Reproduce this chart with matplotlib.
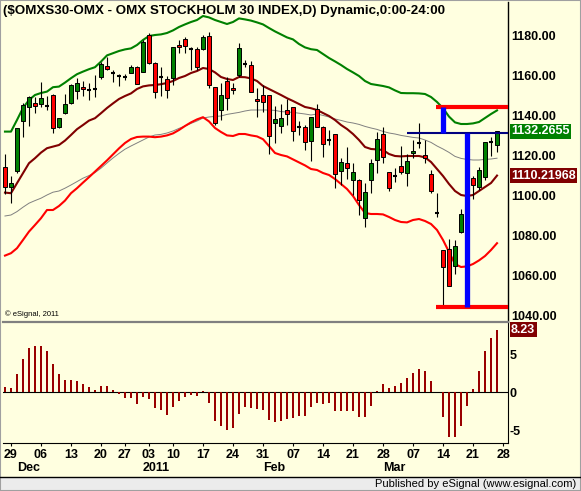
import matplotlib
matplotlib.use("Agg")
import matplotlib.pyplot as plt
from matplotlib.patches import Rectangle
import pandas as pd

# trading days (Stockholm holidays dropped); the chart runs one slot past the last bar
holidays = pd.to_datetime(["2010-12-24", "2010-12-31", "2011-01-06"])
dates = pd.bdate_range("2010-11-26", "2011-03-28")
dates = dates[~dates.isin(holidays)]

opens = [1114.7, 1104.3, 1112.7, 1137.7, 1144.3, 1146.7, 1146.0, 1145.0, 1150.3, 1134.7,
         1141.3, 1146.3, 1152.7, 1154.7, 1153.0, 1153.7, 1159.3, 1165.0, 1161.7, 1160.0,
         1159.7, 1161.3, 1164.3, 1161.8, 1180.5, 1166.3, 1159.7, 1158.3, 1158.8, 1175.3,
         1178.7, 1173.3, 1173.3, 1173.3, 1180.0, 1154.3, 1143.0, 1157.5, 1153.8, 1160.5,
         1165.8, 1165.3, 1148.7, 1150.5, 1150.3, 1136.3, 1135.2, 1143.0, 1144.3, 1134.7,
         1134.3, 1127.5, 1143.3, 1134.7, 1128.0, 1131.0, 1112.7, 1116.3, 1108.0, 1108.0,
         1088.8, 1108.0, 1118.0, 1131.0, 1111.8, 1110.2, 1115.0, 1111.3, 1121.3, 1126.3,
         1120.3, 1111.0, 1091.7, 1072.8, 1073.5, 1065.2, 1082.2, 1103.7, 1109.0, 1104.3,
         1109.3, 1126.8, 1125.5]
highs = [1121.0, 1110.2, 1134.0, 1146.7, 1150.0, 1149.7, 1157.2, 1150.0, 1151.0, 1139.0,
         1150.8, 1156.0, 1158.8, 1157.7, 1156.3, 1160.5, 1167.2, 1169.7, 1163.0, 1161.0,
         1161.0, 1165.5, 1165.0, 1178.0, 1181.3, 1167.2, 1164.7, 1160.0, 1174.7, 1178.0,
         1179.7, 1174.7, 1174.5, 1180.5, 1182.2, 1154.5, 1156.3, 1159.7, 1156.3, 1176.7,
         1168.0, 1167.5, 1153.8, 1155.5, 1150.3, 1145.0, 1145.8, 1148.5, 1144.7, 1137.7,
         1135.5, 1139.7, 1146.0, 1135.0, 1133.0, 1131.0, 1118.8, 1124.7, 1116.3, 1108.5,
         1106.7, 1118.3, 1132.2, 1134.7, 1111.8, 1113.8, 1125.0, 1121.0, 1128.0, 1136.3,
         1128.0, 1113.0, 1101.3, 1072.8, 1078.3, 1078.0, 1093.5, 1108.8, 1110.0, 1114.7,
         1126.8, 1129.7, 1132.27]
lows = [1101.0, 1096.7, 1111.7, 1129.7, 1135.0, 1141.3, 1144.7, 1143.0, 1131.3, 1133.9,
        1141.0, 1146.0, 1148.3, 1150.0, 1148.0, 1149.7, 1158.3, 1163.0, 1157.2, 1155.0,
        1158.0, 1161.3, 1155.8, 1161.8, 1166.0, 1149.2, 1150.0, 1149.2, 1155.5, 1171.3,
        1171.3, 1163.0, 1163.0, 1173.0, 1153.8, 1135.5, 1138.0, 1143.0, 1150.8, 1159.7,
        1164.7, 1151.8, 1139.7, 1142.2, 1121.0, 1126.7, 1131.3, 1135.5, 1127.7, 1130.5,
        1123.0, 1117.7, 1134.3, 1119.7, 1125.5, 1103.8, 1105.5, 1108.5, 1100.5, 1090.5,
        1084.7, 1101.3, 1111.7, 1116.3, 1102.7, 1107.2, 1111.0, 1105.0, 1119.0, 1123.8,
        1116.3, 1101.3, 1089.3, 1045.5, 1055.2, 1061.0, 1081.3, 1101.3, 1098.3, 1103.0,
        1108.0, 1120.2, 1122.2]
closes = [1104.3, 1106.3, 1133.8, 1145.3, 1149.3, 1145.0, 1148.8, 1145.0, 1133.8, 1138.8,
          1146.0, 1155.3, 1156.3, 1153.7, 1153.0, 1153.7, 1166.0, 1163.3, 1161.7, 1160.0,
          1159.7, 1164.7, 1155.8, 1176.8, 1166.3, 1152.0, 1159.7, 1153.0, 1174.3, 1174.3,
          1175.0, 1173.3, 1164.7, 1179.3, 1155.5, 1136.3, 1150.3, 1148.8, 1152.8, 1173.8,
          1165.8, 1151.8, 1147.5, 1146.8, 1130.2, 1138.3, 1138.8, 1140.8, 1132.7, 1134.7,
          1127.2, 1139.7, 1134.3, 1125.8, 1128.0, 1110.8, 1116.8, 1113.8, 1111.8, 1098.0,
          1101.8, 1116.3, 1128.3, 1119.3, 1103.8, 1110.2, 1112.2, 1117.7, 1122.5, 1126.3,
          1118.8, 1102.5, 1091.7, 1064.3, 1055.2, 1075.0, 1090.8, 1106.3, 1105.7, 1113.0,
          1126.8, 1126.8, 1132.2655]

upper_band = [1132.2, 1132.2, 1138.0, 1144.0, 1148.0, 1150.5, 1151.5, 1152.2, 1154.4, 1154.7,
              1156.7, 1158.9, 1160.9, 1162.2, 1163.4, 1164.4, 1167.2, 1170.3, 1171.4, 1172.5,
              1173.3, 1173.8, 1175.5, 1178.0, 1180.0, 1180.5, 1180.8, 1181.5, 1182.8, 1184.5,
              1185.8, 1187.0, 1188.0, 1190.0, 1189.3, 1188.0, 1187.0, 1186.0, 1187.0, 1188.8,
              1188.3, 1187.7, 1186.8, 1185.8, 1184.0, 1182.3, 1180.8, 1179.3, 1178.3, 1176.0,
              1174.3, 1173.4, 1173.0, 1171.0, 1169.0, 1167.3, 1165.5, 1163.5, 1161.8, 1160.0,
              1157.5, 1156.0, 1155.5, 1155.0, 1154.3, 1152.8, 1151.5, 1151.4, 1151.4, 1151.3,
              1151.0, 1149.5, 1147.0, 1143.9, 1139.7, 1136.8, 1136.0, 1136.0, 1136.3, 1137.0,
              1139.0, 1141.0, 1142.8]
mid_band = [1101.7, 1101.4, 1106.4, 1111.4, 1116.4, 1118.9, 1121.7, 1123.9, 1124.7, 1125.5,
            1127.7, 1130.5, 1133.4, 1135.5, 1137.7, 1138.9, 1141.4, 1144.0, 1146.3, 1148.5,
            1150.0, 1151.3, 1153.5, 1154.8, 1155.3, 1155.5, 1155.9, 1156.5, 1157.5, 1159.0,
            1160.0, 1161.5, 1162.5, 1164.0, 1163.5, 1161.8, 1159.5, 1158.5, 1158.0, 1159.5,
            1159.4, 1158.8, 1157.5, 1155.0, 1153.5, 1152.0, 1150.5, 1148.9, 1147.5, 1146.0,
            1144.5, 1143.9, 1143.0, 1141.5, 1140.0, 1138.0, 1135.5, 1133.5, 1131.0, 1128.0,
            1124.5, 1123.5, 1123.3, 1123.0, 1121.0, 1120.0, 1119.8, 1120.0, 1120.0, 1120.0,
            1119.3, 1117.0, 1113.5, 1110.0, 1106.0, 1102.5, 1100.5, 1100.0, 1100.5, 1102.5,
            1104.5, 1106.5, 1110.21968]
lower_band = [1070.2, 1071.4, 1073.9, 1078.0, 1082.2, 1085.5, 1088.9, 1093.0, 1093.0, 1095.0,
              1097.7, 1101.4, 1103.9, 1106.7, 1109.4, 1112.2, 1115.0, 1117.8, 1120.8, 1123.8,
              1126.5, 1128.5, 1129.5, 1129.7, 1129.7, 1129.4, 1129.7, 1130.3, 1131.3, 1133.0,
              1135.0, 1136.8, 1138.3, 1139.4, 1137.3, 1134.0, 1132.0, 1130.3, 1130.0, 1131.0,
              1131.0, 1130.3, 1129.8, 1128.4, 1125.0, 1121.5, 1120.5, 1119.8, 1118.3, 1116.8,
              1115.3, 1113.5, 1113.0, 1111.5, 1110.5, 1108.5, 1106.0, 1103.5, 1100.0, 1095.5,
              1091.5, 1091.0, 1091.0, 1090.8, 1089.5, 1088.0, 1087.0, 1086.8, 1088.0, 1088.5,
              1087.5, 1086.0, 1083.0, 1078.0, 1072.0, 1066.0, 1064.5, 1064.8, 1066.0, 1067.8,
              1070.0, 1073.0, 1076.4]
gray_avg = [1090.0, 1090.5, 1092.2, 1094.4, 1096.4, 1097.7, 1098.9, 1100.5, 1101.9, 1102.5,
            1103.9, 1105.5, 1107.2, 1108.9, 1110.2, 1111.7, 1113.9, 1116.5, 1119.0, 1121.3,
            1123.4, 1125.0, 1126.5, 1128.0, 1129.5, 1130.5, 1130.8, 1131.5, 1132.5, 1133.8,
            1135.0, 1136.3, 1137.5, 1139.0, 1139.5, 1139.8, 1140.0, 1140.8, 1141.3, 1141.8,
            1142.5, 1143.0, 1143.0, 1143.0, 1143.0, 1142.8, 1142.2, 1142.0, 1141.8, 1141.4,
            1141.0, 1140.5, 1141.0, 1140.3, 1139.5, 1138.5, 1137.8, 1137.0, 1136.5, 1135.8,
            1134.8, 1134.0, 1133.3, 1132.3, 1131.5, 1131.0, 1130.3, 1129.8, 1129.3, 1129.0,
            1128.0, 1126.8, 1125.0, 1123.5, 1121.8, 1119.8, 1118.8, 1118.3, 1118.0, 1118.0,
            1118.3, 1118.5, 1118.9]
osc = [0.70, 0.53, 2.41, 4.39, 5.83, 6.10, 6.10, 5.44, 3.73, 2.41,
       1.62, 1.62, 1.49, 1.05, 0.70, 0.31, 0.83, 0.83, 0.31, -0.22,
       -0.70, -0.70, -1.49, -0.61, -0.88, -2.06, -2.28, -2.94, -1.93, -1.14,
       -0.61, -0.35, -0.48, 0.13, -1.40, -3.73, -4.39, -4.91, -4.65, -2.81,
       -1.93, -2.06, -2.19, -2.28, -3.60, -3.86, -3.73, -3.46, -3.44, -3.11,
       -3.11, -1.89, -1.36, -1.49, -1.36, -2.41, -2.41, -2.41, -2.41, -3.20,
       -3.20, -1.75, 0.18, 1.05, 0.53, 0.79, 1.23, 1.89, 2.54, 3.07,
       2.81, 1.49, 0.04, -3.20, -5.83, -5.83, -4.39, -1.75, 0.44, 2.85,
       5.44, 7.19, 8.23]

# hand-drawn annotations: (price level, first date)
resistance = (1144.5, "2011-03-11")
support = (1044.7, "2011-03-11")
breakout = (1131.7, "2011-03-04")
bar_dates = ["2011-03-14", "2011-03-18"]

title = "($OMXS30-OMX - OMX STOCKHOLM 30 INDEX,D) Dynamic,0:00-24:00"

BG = "#FFFFE0"
plt.rcParams["font.family"] = ["Liberation Sans", "DejaVu Sans"]

W, H = 581, 491
fig = plt.figure(figsize=(W / 100, H / 100), dpi=100, facecolor=BG)
ax = fig.add_axes([3 / W, 1 - 322 / H, 505 / W, 320 / H], facecolor=BG)
ax2 = fig.add_axes([3 / W, 1 - 443 / H, 505 / W, 121 / H], facecolor=BG)

pos = {d.strftime("%Y-%m-%d"): i for i, d in enumerate(dates)}
idx = list(range(len(closes)))
xmin, xmax = -0.33, len(dates) - 0.17

# bands
ax.plot(idx, gray_avg, color="#808080", lw=0.7, zorder=2)
ax.plot(idx, lower_band, color="#FF0000", lw=1.5, zorder=2)
ax.plot(idx, mid_band, color="#800000", lw=1.5, zorder=2)
ax.plot(idx, upper_band, color="#008000", lw=1.5, zorder=2)

# candles
for i, (o, h, l, c) in enumerate(zip(opens, highs, lows, closes)):
    ax.vlines(i, l, h, color="black", lw=0.8, zorder=3)
    if abs(c - o) < 0.3:
        ax.hlines(o, i - 0.4, i + 0.4, color="black", lw=1.5, zorder=4)
    else:
        col = "#008000" if c > o else "#FF0000"
        ax.add_patch(Rectangle((i - 0.38, min(o, c)), 0.76, abs(c - o),
                               facecolor=col, edgecolor="black", lw=0.7, zorder=4))

# annotations
ax.hlines(breakout[0], pos[breakout[1]], xmax, color="#000080", lw=1.5, zorder=5)
ax.hlines(resistance[0], pos[resistance[1]] - 0.2, xmax, color="#FF0000", lw=3, zorder=5)
ax.hlines(support[0], pos[support[1]] - 0.2, xmax, color="#FF0000", lw=3, zorder=5)
ax.vlines(pos[bar_dates[0]], breakout[0], resistance[0], color="#0000FF", lw=3.8, zorder=6)
ax.vlines(pos[bar_dates[1]], support[0], breakout[0], color="#0000FF", lw=3.8, zorder=6)

ax.set_xlim(xmin, xmax)
ax.set_ylim(1037, 1197)
ax.set_xticks([])
ax.yaxis.tick_right()
yt = list(range(1040, 1181, 20))
ax.set_yticks(yt)
ax.set_yticklabels([f"{v:.2f}" for v in yt], fontsize=9, fontweight="bold")
ax.tick_params(axis="y", length=0, pad=2)
for s in ["top", "left", "bottom"]:
    ax.spines[s].set_visible(False)
ax.spines["right"].set_color("black")
ax.spines["right"].set_linewidth(1)

ax.text(0.0, 0.99, title, transform=ax.transAxes, ha="left", va="top",
        fontsize=9.6, fontweight="bold")
ax.text(0.004, 0.025, "\u00a9 eSignal, 2011", transform=ax.transAxes,
        ha="left", va="center", fontsize=5.5)

yt_tr = ax.get_yaxis_transform()
ax.text(1.006, closes[-1], f"{closes[-1]:.4f}", transform=yt_tr, ha="left", va="center",
        color="white", fontsize=9, fontweight="bold", zorder=10, clip_on=False,
        bbox=dict(boxstyle="square,pad=0.12", fc="#008000", ec="none"))
ax.text(1.006, mid_band[-1], f"{mid_band[-1]:.5f}", transform=yt_tr, ha="left", va="center",
        color="white", fontsize=9, fontweight="bold", zorder=10, clip_on=False,
        bbox=dict(boxstyle="square,pad=0.12", fc="#800000", ec="none"))

# lower panel
ax2.bar(idx, osc, width=0.35, color="#990000", zorder=3)
ax2.axhline(0, color="black", lw=0.8, zorder=2)
ax2.set_xlim(xmin, xmax)
ax2.set_ylim(-6.67, 9.25)
ax2.yaxis.tick_right()
ax2.set_yticks([-5, 0, 5])
ax2.set_yticklabels(["-5", "0", "5"], fontsize=9, fontweight="bold")
ax2.tick_params(axis="y", length=0, pad=1)
ax2.spines["left"].set_visible(False)
ax2.spines["top"].set_color("#808080")
ax2.spines["top"].set_linewidth(1.6)
ax2.spines["right"].set_color("black")
ax2.spines["bottom"].set_color("black")

ax2.text(1.006, osc[-1], f"{osc[-1]:.2f}", transform=ax2.get_yaxis_transform(),
         ha="left", va="center", color="white", fontsize=9, fontweight="bold",
         clip_on=False, bbox=dict(boxstyle="square,pad=0.12", fc="#800000", ec="none"))

mondays = [i for i, d in enumerate(dates) if d.weekday() == 0]
ax2.set_xticks(mondays)
ax2.set_xticklabels([dates[i].strftime("%d") for i in mondays], fontsize=9, fontweight="bold")
ax2.tick_params(axis="x", length=2, pad=2.5)

months = {}
for i, d in enumerate(dates):
    key = (d.year, d.month)
    if key not in months:
        months[key] = i
for (y, m), i in months.items():
    if i == 0:
        continue
    lab = str(y) if m == 1 else dates[i].strftime("%b")
    ax2.text(i - 1, -0.21, lab, transform=ax2.get_xaxis_transform(),
             ha="left", va="center", fontsize=9, fontweight="bold")

# status bar and frame
fig.patches.append(Rectangle((0, 0), 1, 14 / H, transform=fig.transFigure,
                             fc="#ECECEC", ec="none", zorder=0))
fig.lines.append(plt.Line2D([0, 1], [14 / H, 14 / H], transform=fig.transFigure,
                            color="black", lw=1))
fig.patches.append(Rectangle((0, 0), 1, 1, transform=fig.transFigure,
                             fc="none", ec="#A0A0A0", lw=1.5))
fig.text(576 / W, 7 / H, "Published by eSignal (www.esignal.com)",
         ha="right", va="center", fontsize=8)

fig.savefig("out.png", dpi=100, facecolor=BG)
